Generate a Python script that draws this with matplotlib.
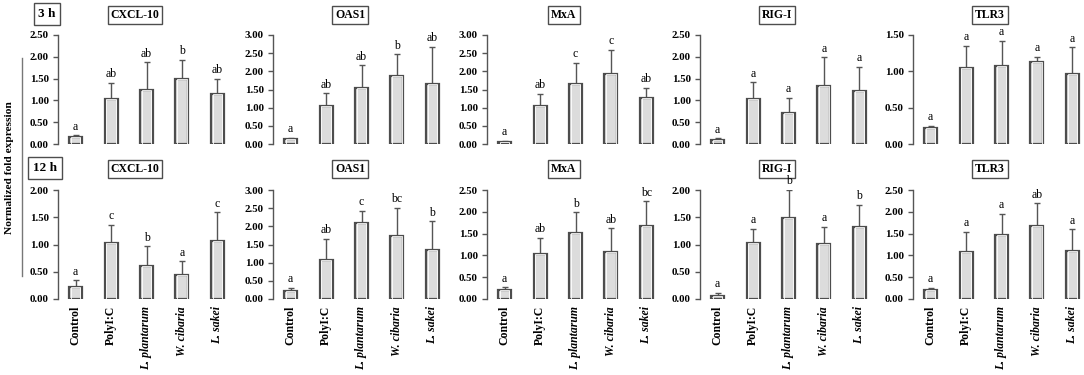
import numpy as np
import matplotlib
matplotlib.use('Agg')
import matplotlib.pyplot as plt
from matplotlib.lines import Line2D

plt.rcParams['font.family'] = ['Liberation Serif', 'DejaVu Serif']

# groups along x
groups = ['Control', 'PolyI:C', 'L. plantarum', 'W. cibaria', 'L. sakei']
italic = [False, False, True, True, True]
genes = ['CXCL-10', 'OAS1', 'MxA', 'RIG-I', 'TLR3']

# 3 h means / upper error / letters
mean_3h = [
    [0.15, 1.04, 1.23, 1.49, 1.14],
    [0.15, 1.04, 1.53, 1.86, 1.65],
    [0.06, 1.04, 1.64, 1.93, 1.26],
    [0.09, 1.04, 0.70, 1.33, 1.21],
    [0.22, 1.04, 1.07, 1.13, 0.96],
]
err_3h = [
    [0.05, 0.37, 0.64, 0.44, 0.35],
    [0.02, 0.35, 0.64, 0.61, 1.02],
    [0.03, 0.34, 0.59, 0.67, 0.29],
    [0.04, 0.38, 0.36, 0.66, 0.56],
    [0.03, 0.31, 0.35, 0.07, 0.37],
]
sig_3h = [
    ['a', 'ab', 'ab', 'b', 'ab'],
    ['a', 'ab', 'ab', 'b', 'ab'],
    ['a', 'ab', 'c', 'c', 'ab'],
    ['a', 'a', 'a', 'a', 'a'],
    ['a', 'a', 'a', 'a', 'a'],
]
ymax_3h = [2.5, 3.0, 3.0, 2.5, 1.5]

# 12 h
mean_12h = [
    [0.22, 1.03, 0.61, 0.44, 1.07],
    [0.23, 1.08, 2.10, 1.73, 1.36],
    [0.21, 1.04, 1.51, 1.07, 1.67],
    [0.05, 1.02, 1.49, 1.01, 1.32],
    [0.20, 1.07, 1.47, 1.68, 1.09],
]
err_12h = [
    [0.12, 0.33, 0.36, 0.25, 0.52],
    [0.08, 0.58, 0.33, 0.78, 0.78],
    [0.06, 0.36, 0.48, 0.55, 0.57],
    [0.06, 0.27, 0.51, 0.32, 0.41],
    [0.06, 0.47, 0.48, 0.52, 0.51],
]
sig_12h = [
    ['a', 'c', 'b', 'a', 'c'],
    ['a', 'ab', 'c', 'bc', 'b'],
    ['a', 'ab', 'b', 'ab', 'bc'],
    ['a', 'a', 'b', 'a', 'b'],
    ['a', 'a', 'a', 'ab', 'a'],
]
ymax_12h = [2.0, 3.0, 2.5, 2.0, 2.5]

W, H = 1084, 375
fig = plt.figure(figsize=(W / 100, H / 100), dpi=100)

lefts = [58, 273, 487, 700, 913]
ax_w = 177
rows = [(35, 144, mean_3h, err_3h, sig_3h, ymax_3h, 15, False),
        (190, 299, mean_12h, err_12h, sig_12h, ymax_12h, 169, True)]

edge = '#4d4d4d'
x = np.arange(len(groups))

for top, bot, means, errs, sigs, ymaxs, title_y, show_x in rows:
    for i, gene in enumerate(genes):
        ax = fig.add_axes([lefts[i] / W, 1 - bot / H, ax_w / W, (bot - top) / H])
        m = np.array(means[i])
        e = np.array(errs[i])
        ax.bar(x, m, width=0.37, color='#dcdcdc', edgecolor=edge, linewidth=1.6, zorder=2)
        ax.bar(x, m, width=0.27, color='none', edgecolor='white', linewidth=0.6, zorder=3)
        ax.errorbar(x, m, yerr=[np.zeros_like(e), e], fmt='none', ecolor='#555555',
                    elinewidth=1.0, capsize=2.2, capthick=1.0, zorder=1)
        for xi, yi, s in zip(x, m + e, sigs[i]):
            ax.annotate(s, (xi, yi), xytext=(0, 4), textcoords='offset points',
                        ha='center', va='baseline', fontsize=8.5, zorder=5)
        ax.set_xlim(-0.5, 4.5)
        ax.set_ylim(0, ymaxs[i])
        ticks = np.arange(0, ymaxs[i] + 0.01, 0.5)
        ax.set_yticks(ticks)
        ax.set_yticklabels(['%.2f' % v for v in ticks], fontsize=7.8, fontweight='bold')
        for sp in ['top', 'right', 'bottom']:
            ax.spines[sp].set_visible(False)
        ax.spines['left'].set_color('#555555')
        ax.spines['left'].set_linewidth(1.0)
        ax.tick_params(axis='y', length=3.5, width=1.0, color='#555555', pad=3)
        ax.patch.set_alpha(0)
        if show_x:
            ax.set_xticks(x)
            ax.set_xticklabels(groups, rotation=90, fontsize=8.5, fontweight='bold')
            for lab, it in zip(ax.get_xticklabels(), italic):
                if it:
                    lab.set_fontstyle('italic')
            ax.tick_params(axis='x', length=0, pad=5)
        else:
            ax.set_xticks([])
        fig.text((lefts[i] + 77) / W, 1 - title_y / H, gene, ha='center', va='center',
                 fontsize=8.5, fontweight='bold', zorder=-1,
                 bbox=dict(boxstyle='square,pad=0.25', fc='white', ec=edge, lw=1.0))

# time labels
fig.text(47 / W, 1 - 14 / H, '3 h', ha='center', va='center', fontsize=9.5, fontweight='bold',
         bbox=dict(boxstyle='square,pad=0.35', fc='white', ec=edge, lw=1.0))
fig.text(45 / W, 1 - 168 / H, '12 h', ha='center', va='center', fontsize=9.5, fontweight='bold',
         bbox=dict(boxstyle='square,pad=0.35', fc='white', ec=edge, lw=1.0))

fig.text(10 / W, 1 - 168 / H, 'Normalized fold expression', rotation=90, ha='center', va='center',
         fontsize=8.2, fontweight='bold')
fig.add_artist(Line2D([22 / W, 22 / W], [1 - 58 / H, 1 - 276 / H], color='#777777', lw=1.0))

fig.savefig('out.png', dpi=100, facecolor='white')
